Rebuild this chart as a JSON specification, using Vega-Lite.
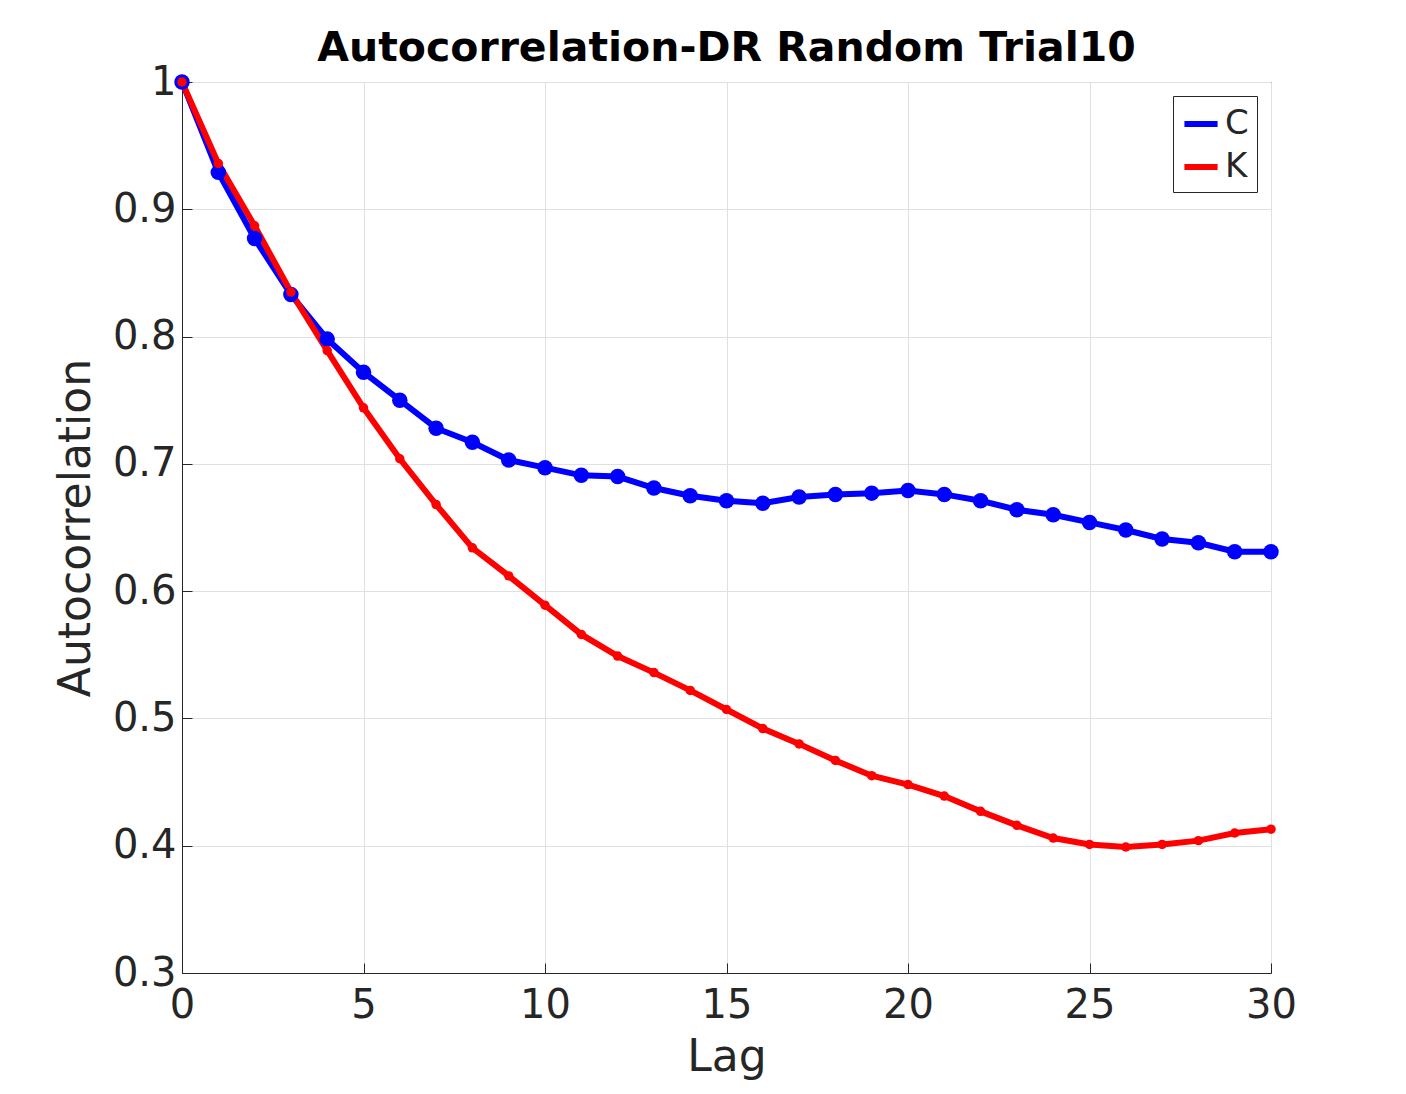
{
  "$schema": "https://vega.github.io/schema/vega-lite/v6.json",
  "autosize": "none",
  "width": 1089,
  "height": 891,
  "padding": {"left": 182, "top": 82, "right": 135, "bottom": 121},
  "background": "white",
  "config": {
    "font": "DejaVu Sans",
    "view": {"stroke": "#262626", "strokeWidth": 1}
  },
  "title": {"text": "Autocorrelation-DR Random Trial10", "fontSize": 41, "fontWeight": "bold", "color": "black", "offset": -8},
  "data": {"values": [
    {"lag":0,"s":"C","v":1},{"lag":1,"s":"C","v":0.929},{"lag":2,"s":"C","v":0.877},{"lag":3,"s":"C","v":0.833},{"lag":4,"s":"C","v":0.798},{"lag":5,"s":"C","v":0.772},{"lag":6,"s":"C","v":0.750},{"lag":7,"s":"C","v":0.728},{"lag":8,"s":"C","v":0.717},{"lag":9,"s":"C","v":0.703},{"lag":10,"s":"C","v":0.697},{"lag":11,"s":"C","v":0.691},{"lag":12,"s":"C","v":0.690},{"lag":13,"s":"C","v":0.681},{"lag":14,"s":"C","v":0.675},{"lag":15,"s":"C","v":0.671},{"lag":16,"s":"C","v":0.669},{"lag":17,"s":"C","v":0.674},{"lag":18,"s":"C","v":0.676},{"lag":19,"s":"C","v":0.677},{"lag":20,"s":"C","v":0.679},{"lag":21,"s":"C","v":0.676},{"lag":22,"s":"C","v":0.671},{"lag":23,"s":"C","v":0.664},{"lag":24,"s":"C","v":0.660},{"lag":25,"s":"C","v":0.654},{"lag":26,"s":"C","v":0.648},{"lag":27,"s":"C","v":0.641},{"lag":28,"s":"C","v":0.638},{"lag":29,"s":"C","v":0.631},{"lag":30,"s":"C","v":0.631},
    {"lag":0,"s":"K","v":1},{"lag":1,"s":"K","v":0.936},{"lag":2,"s":"K","v":0.887},{"lag":3,"s":"K","v":0.835},{"lag":4,"s":"K","v":0.789},{"lag":5,"s":"K","v":0.744},{"lag":6,"s":"K","v":0.704},{"lag":7,"s":"K","v":0.668},{"lag":8,"s":"K","v":0.634},{"lag":9,"s":"K","v":0.612},{"lag":10,"s":"K","v":0.589},{"lag":11,"s":"K","v":0.566},{"lag":12,"s":"K","v":0.549},{"lag":13,"s":"K","v":0.536},{"lag":14,"s":"K","v":0.522},{"lag":15,"s":"K","v":0.507},{"lag":16,"s":"K","v":0.492},{"lag":17,"s":"K","v":0.480},{"lag":18,"s":"K","v":0.467},{"lag":19,"s":"K","v":0.455},{"lag":20,"s":"K","v":0.448},{"lag":21,"s":"K","v":0.439},{"lag":22,"s":"K","v":0.427},{"lag":23,"s":"K","v":0.416},{"lag":24,"s":"K","v":0.406},{"lag":25,"s":"K","v":0.401},{"lag":26,"s":"K","v":0.399},{"lag":27,"s":"K","v":0.401},{"lag":28,"s":"K","v":0.404},{"lag":29,"s":"K","v":0.410},{"lag":30,"s":"K","v":0.413}
  ]},
  "encoding": {
    "x": {"field": "lag", "type": "quantitative", "scale": {"domain": [0, 30], "nice": false},
      "axis": {"title": "Lag", "values": [0,5,10,15,20,25,30], "labelFontSize": 40, "titleFontSize": 44, "titleFontWeight": "normal", "labelColor": "#262626", "titleColor": "#262626", "tickColor": "#262626", "domainColor": "#262626", "tickSize": -10, "labelPadding": 22, "titlePadding": 10, "gridColor": "#e0e0e0", "labelFlush": false}},
    "y": {"field": "v", "type": "quantitative", "scale": {"domain": [0.3, 1], "nice": false, "zero": false},
      "axis": {"title": "Autocorrelation", "values": [0.3,0.4,0.5,0.6,0.7,0.8,0.9,1], "labelExpr": "datum.value == 1 ? '1' : format(datum.value, '.1f')", "labelFontSize": 40, "titleFontSize": 44, "titleFontWeight": "normal", "labelColor": "#262626", "titleColor": "#262626", "tickColor": "#262626", "domainColor": "#262626", "tickSize": -10, "labelPadding": 16, "titlePadding": 14, "gridColor": "#e0e0e0"}},
    "color": {"field": "s", "type": "nominal", "scale": {"domain": ["C","K"], "range": ["#0000ff","#ff0000"]},
      "legend": {"title": null, "orient": "top-right", "offset": 14, "labelFontSize": 34, "labelColor": "#262626", "symbolType": "stroke", "symbolStrokeWidth": 6, "symbolSize": 1100, "strokeColor": "#262626", "padding": 8, "fillColor": "white", "rowPadding": 6}}
  },
  "layer": [
    {"mark": {"type": "line", "strokeWidth": 6}},
    {"transform": [{"filter": "datum.s == 'C'"}], "mark": {"type": "circle", "size": 240, "opacity": 1}},
    {"transform": [{"filter": "datum.s == 'K'"}], "mark": {"type": "circle", "size": 90, "opacity": 1}}
  ]
}
